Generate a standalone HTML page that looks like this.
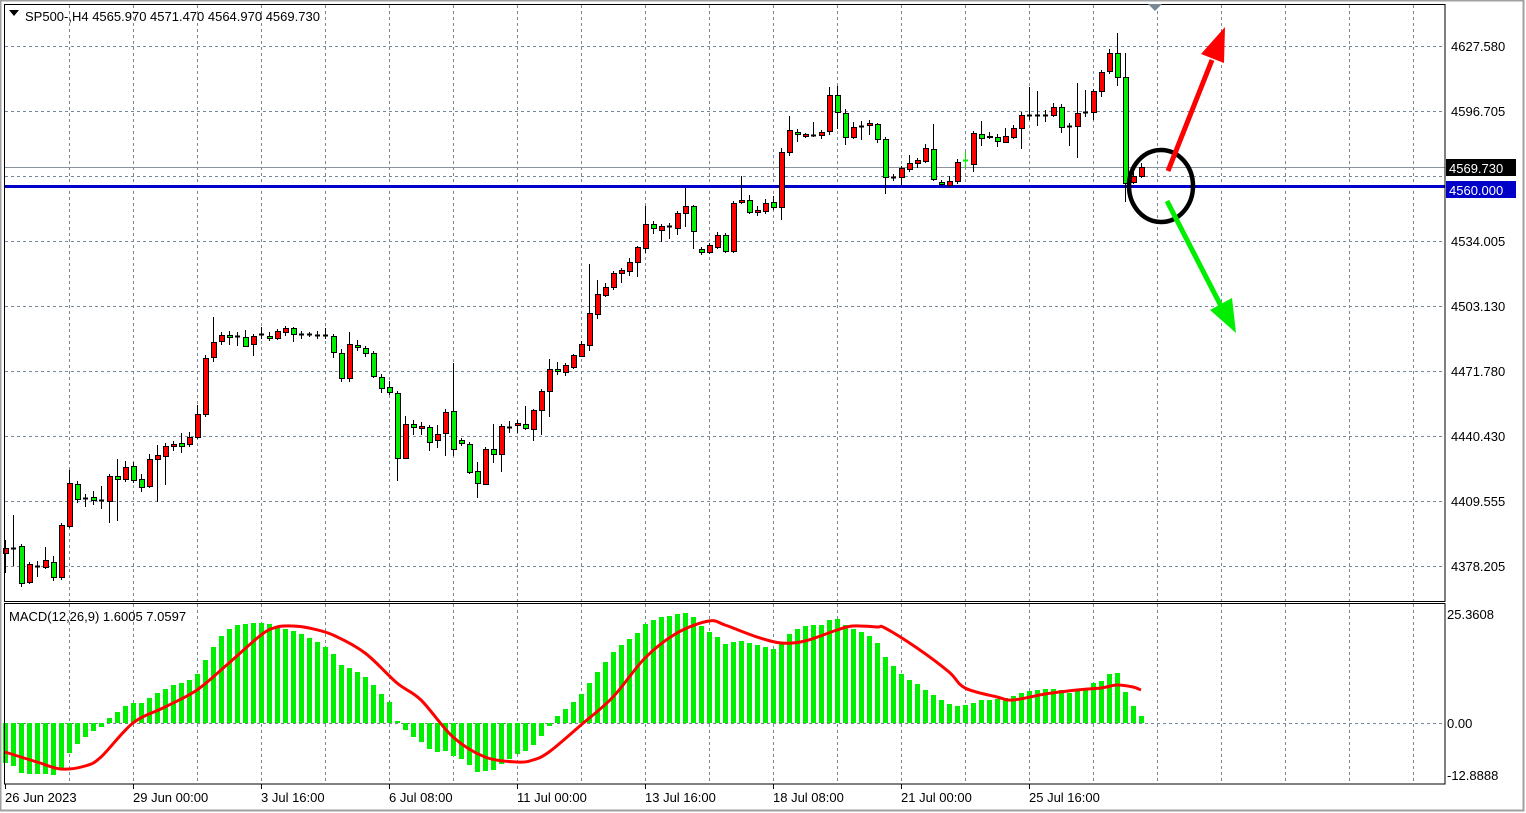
<!DOCTYPE html>
<html><head><meta charset="utf-8"><style>
html,body{margin:0;padding:0;background:#fff;}
svg{display:block;font-family:"Liberation Sans",sans-serif;}
</style></head><body>
<svg id="s" width="1526" height="813" xmlns="http://www.w3.org/2000/svg">
<rect x="0" y="0" width="1526" height="813" fill="#fff"/>
<rect x="0.5" y="0.5" width="1523" height="810" fill="none" stroke="#a0a0a0" stroke-width="2"/>
<g id="grid" stroke="#778899" stroke-width="1" stroke-dasharray="3,3" shape-rendering="crispEdges"></g>
<line x1="4" y1="167.5" x2="1445" y2="167.5" stroke="#8a939c" stroke-width="1"/>
<line x1="4" y1="186.5" x2="1445" y2="186.5" stroke="#0000c8" stroke-width="3"/>
<g id="candles" shape-rendering="crispEdges"></g>
<g id="hist" fill="#00ee00" shape-rendering="crispEdges"></g>
<path id="sig" fill="none" stroke="#ff0000" stroke-width="3" stroke-linejoin="round"/>
<rect x="4.5" y="4.5" width="1440.5" height="597" fill="none" stroke="#000" stroke-width="1"/>
<rect x="4.5" y="603.5" width="1440.5" height="180.5" fill="none" stroke="#000" stroke-width="1"/>
<polygon points="1148,4 1162,4 1155,11" fill="#7a8794"/>
<polygon points="9,10 19,10 14,16" fill="#000"/>
<text x="25" y="21" font-size="13" fill="#000">SP500-,H4  4565.970 4571.470 4564.970 4569.730</text>
<text x="9" y="621" font-size="13" fill="#000">MACD(12,26,9) 1.6005 7.0597</text>
<g font-size="13" fill="#000" id="ylab">
<text x="1451" y="51">4627.580</text>
<text x="1451" y="116">4596.705</text>
<text x="1451" y="246">4534.005</text>
<text x="1451" y="311">4503.130</text>
<text x="1451" y="376">4471.780</text>
<text x="1451" y="441">4440.430</text>
<text x="1451" y="506">4409.555</text>
<text x="1451" y="571">4378.205</text>
<text x="1447" y="619">25.3608</text>
<text x="1447" y="728">0.00</text>
<text x="1447" y="780">-12.8888</text>
</g>
<rect x="1446" y="159" width="70" height="17" fill="#000"/>
<text x="1449" y="173" font-size="13" fill="#fff">4569.730</text>
<rect x="1446" y="181" width="70" height="17" fill="#0000c8"/>
<text x="1449" y="195" font-size="13" fill="#fff">4560.000</text>
<g font-size="13" fill="#000">
<text x="5" y="802">26 Jun 2023</text>
<text x="133" y="802">29 Jun 00:00</text>
<text x="261" y="802">3 Jul 16:00</text>
<text x="389" y="802">6 Jul 08:00</text>
<text x="517" y="802">11 Jul 00:00</text>
<text x="645" y="802">13 Jul 16:00</text>
<text x="773" y="802">18 Jul 08:00</text>
<text x="901" y="802">21 Jul 00:00</text>
<text x="1029" y="802">25 Jul 16:00</text>
</g>
<g id="ticks" stroke="#000"></g>
<ellipse cx="1161" cy="186" rx="32" ry="36" fill="none" stroke="#000" stroke-width="4.5"/>
<line x1="1168" y1="171" x2="1212" y2="60" stroke="#ff0000" stroke-width="5"/>
<polygon points="1225,27 1201,54 1224,63" fill="#ff0000"/>
<line x1="1167" y1="201" x2="1223" y2="310" stroke="#00ee00" stroke-width="5"/>
<polygon points="1236,333 1210,310 1232,298" fill="#00ee00"/>
</svg>
<script>
(function(){
var NS="http://www.w3.org/2000/svg";
function el(p,t,a){var e=document.createElementNS(NS,t);for(var k in a)e.setAttribute(k,a[k]);p.appendChild(e);return e;}
var g=document.getElementById('grid');
for(var x=69;x<=1413;x+=64){el(g,'line',{x1:x+.5,y1:5,x2:x+.5,y2:601});el(g,'line',{x1:x+.5,y1:604,x2:x+.5,y2:784});}
[46,111,176,241,306,371,436,501,566].forEach(function(y){el(g,'line',{x1:5,y1:y+.5,x2:1445,y2:y+.5});});
el(g,'line',{x1:5,y1:723.5,x2:1445,y2:723.5});
var tk=document.getElementById('ticks');
for(var x=5;x<=1029;x+=128){el(tk,'line',{x1:x+.5,y1:784,x2:x+.5,y2:789});}
var C=[[548,553,'r',540,573],[548,548,'d',515,566],[546,583,'g',544,587],[564,582,'r',562,584],[566,566,'d',561,577],[560,567,'r',547,569],[562,577,'g',556,581],[525,577,'r',523,580],[483,526,'r',470,528],[484,499,'g',481,503],[498,498,'d',494,507],[497,500,'g',491,505],[500,500,'d',486,509],[476,501,'r',474,523],[476,479,'g',459,521],[467,479,'r',461,482],[466,480,'g',462,483],[479,487,'g',474,492],[459,486,'r',454,488],[455,459,'r',445,502],[446,456,'r',443,485],[444,446,'r',441,451],[443,446,'g',433,453],[437,444,'r',432,447],[414,437,'r',405,439],[358,414,'r',355,417],[342,357,'r',317,362],[335,341,'r',332,345],[335,337,'g',331,345],[336,336,'d',332,346],[337,346,'g',330,347],[336,344,'r',334,356],[334,334,'d',327,339],[336,338,'g',332,341],[331,338,'r',329,340],[328,332,'r',326,336],[328,334,'g',327,342],[334,334,'d',331,339],[334,334,'d',332,337],[335,335,'d',331,339],[335,335,'d',328,339],[336,352,'g',334,358],[353,378,'g',349,382],[344,378,'r',332,382],[345,347,'g',340,351],[348,353,'g',346,357],[353,376,'g',351,378],[377,388,'g',374,393],[387,392,'g',381,395],[393,458,'g',391,481],[424,458,'r',416,459],[424,427,'g',420,435],[426,428,'r',422,435],[427,442,'g',425,451],[434,440,'r',425,448],[412,433,'r',409,456],[411,449,'g',363,456],[440,443,'g',438,446],[444,472,'g',442,474],[471,483,'g',462,498],[449,484,'r',447,485],[449,454,'g',424,463],[426,454,'r',424,472],[427,427,'d',421,433],[423,425,'r',420,433],[424,428,'g',406,430],[410,429,'r',409,441],[391,410,'r',389,435],[369,391,'r',359,417],[369,371,'g',362,375],[365,372,'r',363,376],[355,367,'r',354,369],[344,356,'r',341,357],[313,345,'r',264,351],[294,314,'r',280,319],[287,295,'r',283,297],[273,287,'r',271,290],[270,273,'r',268,283],[262,271,'r',258,276],[247,262,'r',246,277],[224,248,'r',206,253],[224,228,'g',221,234],[226,230,'r',224,242],[226,226,'d',223,239],[213,228,'r',211,235],[206,213,'r',188,227],[206,231,'g',205,249],[249,252,'g',247,255],[245,252,'r',243,254],[235,247,'r',232,249],[235,251,'g',233,253],[203,251,'r',201,253],[200,202,'r',176,204],[200,212,'g',195,214],[210,212,'r',206,216],[203,211,'r',199,214],[202,207,'g',196,210],[152,207,'r',148,220],[130,152,'r',116,156],[132,134,'g',129,142],[134,136,'r',133,138],[135,135,'d',122,137],[132,135,'r',130,139],[95,131,'r',87,135],[95,112,'g',86,129],[113,137,'g',109,145],[127,137,'r',122,139],[126,126,'d',121,140],[123,125,'r',120,135],[124,139,'g',123,143],[139,177,'g',137,194],[177,177,'d',174,181],[168,177,'r',166,186],[163,169,'r',155,172],[160,163,'r',158,168],[148,161,'r',144,163],[149,179,'g',124,181],[182,184,'g',180,186],[181,185,'r',176,187],[162,181,'r',159,184],[160,160,'x',152,168],[133,164,'r',131,172],[134,138,'g',121,146],[136,137,'r',132,139],[137,141,'g',134,147],[136,142,'r',128,143],[128,137,'r',125,139],[115,128,'r',112,149],[115,115,'d',87,120],[115,115,'d',91,126],[115,115,'d',110,122],[107,115,'r',103,117],[107,127,'g',104,133],[126,126,'d',123,146],[113,126,'r',83,158],[112,112,'d',90,117],[91,112,'r',89,120],[72,91,'r',70,97],[53,71,'r',49,74],[53,77,'g',33,86],[77,183,'g',53,202],[176,182,'r',172,184],[167,176,'r',163,178]];
var cg=document.getElementById('candles');
C.forEach(function(c,i){var x=5+8*i;var col=c[2]=='x'?'#00ee00':'#000';
 el(cg,'line',{x1:x+.5,y1:c[3],x2:x+.5,y2:c[4],stroke:col,'stroke-width':1});
 if(c[2]=='d'||c[2]=='x'){el(cg,'line',{x1:x-2,y1:c[0]+.5,x2:x+3,y2:c[0]+.5,stroke:col,'stroke-width':2});}
 else{el(cg,'rect',{x:x-2+.5,y:c[0]+.5,width:5,height:Math.max(1,c[1]-c[0]),fill:c[2]=='r'?'#ff0000':'#00ee00',stroke:'#000','stroke-width':1});}
});
var H=[763,766,773,774,774,774,775,768,753,744,737,731,727,718,712,706,703,703,698,693,689,685,683,680,674,660,647,636,629,625,624,623,623,624,627,629,631,634,638,642,647,654,665,668,672,677,685,694,702,721,730,737,742,749,752,751,756,759,765,772,771,770,764,759,754,751,745,736,726,716,709,702,694,683,672,662,652,645,639,633,624,620,617,616,614,613,617,626,632,637,644,642,641,643,645,647,649,644,634,629,626,625,625,620,619,625,629,632,636,643,657,666,674,680,684,690,695,700,704,706,705,703,700,700,699,698,696,693,691,690,689,689,690,693,690,688,683,681,674,673,692,706,716];
var hg=document.getElementById('hist');
H.forEach(function(y,i){var x=5+8*i;var a=Math.min(y,723),b=Math.max(y,723);if(b-a<1)b=a+1;el(hg,'rect',{x:x-2,y:a,width:5,height:b-a});});
var S=[[0,752],[4,762],[7,769],[10,766],[12,757],[16,723],[20,707],[24,690],[28,663],[32,635],[34,627],[36,626],[38,628],[41,635],[45,653],[49,683],[52,700],[56,737],[60,757],[64,762],[66,760],[68,752],[72,725],[76,697],[80,658],[84,633],[88,621],[90,625],[94,637],[97,643],[100,641],[104,630],[106,626],[109,627],[110,628],[114,648],[118,672],[120,688],[124,697],[126,700],[130,694],[134,690],[137,688],[139,685],[141,687],[142,690]];
var P=S.map(function(p){return [5+8*p[0],p[1]];});
var d='M'+P[0][0]+','+P[0][1];
for(var i=0;i<P.length-1;i++){var p0=P[Math.max(0,i-1)],p1=P[i],p2=P[i+1],p3=P[Math.min(P.length-1,i+2)];
 var c1x=p1[0]+(p2[0]-p0[0])/6,c1y=p1[1]+(p2[1]-p0[1])/6,c2x=p2[0]-(p3[0]-p1[0])/6,c2y=p2[1]-(p3[1]-p1[1])/6;
 d+=' C'+c1x.toFixed(1)+','+c1y.toFixed(1)+' '+c2x.toFixed(1)+','+c2y.toFixed(1)+' '+p2[0]+','+p2[1];}
document.getElementById('sig').setAttribute('d',d);
})();
</script>
</body></html>
